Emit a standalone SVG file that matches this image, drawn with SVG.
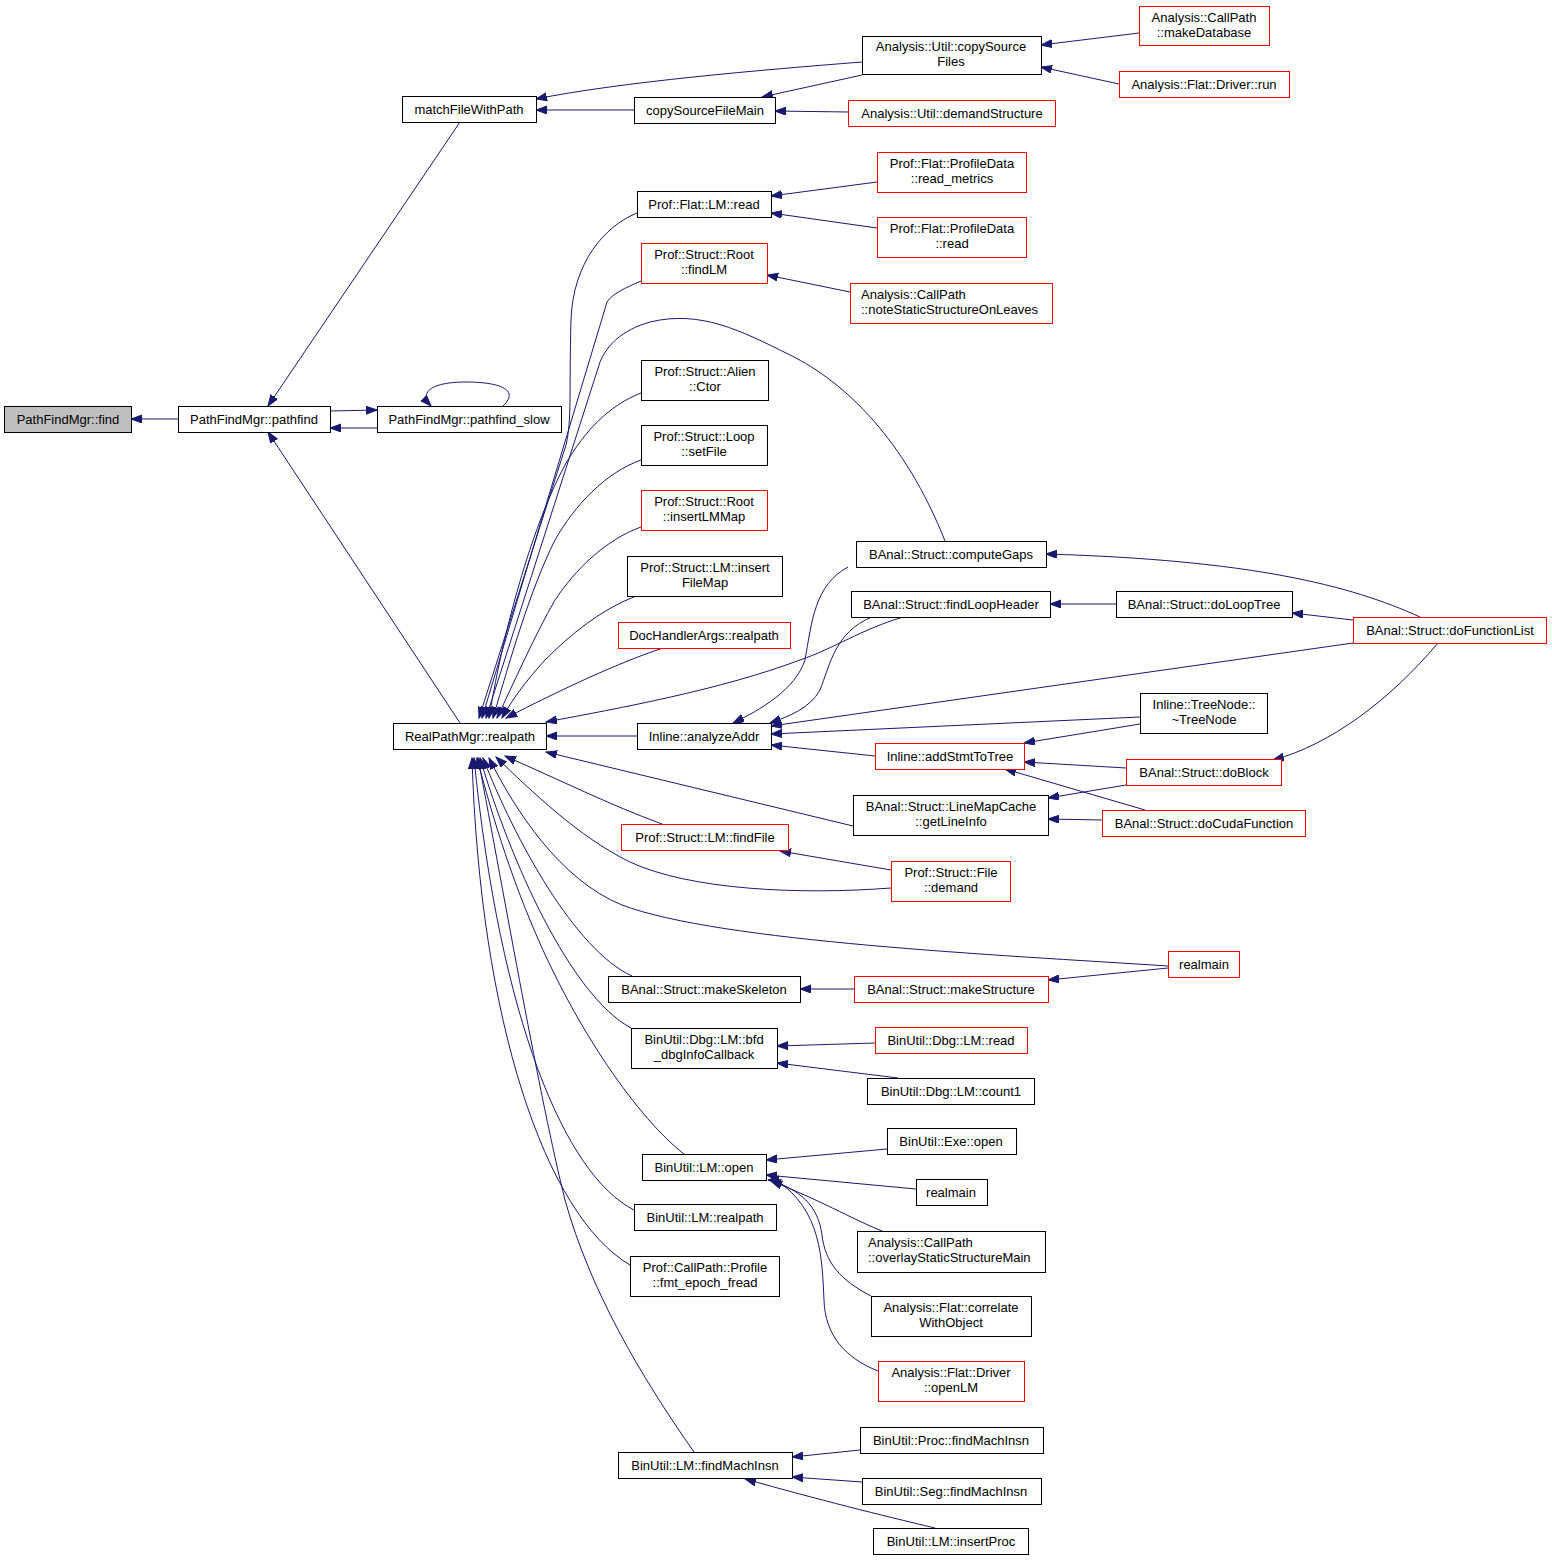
<svg xmlns="http://www.w3.org/2000/svg" width="1552" height="1561" viewBox="0 0 1552 1561">
<style>
.n rect{fill:#fff;stroke:#000;stroke-width:1}
.n.r rect{stroke:#ff0000}
.n.g rect{fill:#bfbfbf}
text{font-family:"Liberation Sans",Arial,sans-serif;font-size:13px;fill:#000;text-anchor:middle}
text.l{text-anchor:start}
#edges path{fill:none;stroke:#191970;stroke-width:1;marker-end:url(#a)}
</style>
<defs>
<marker id="a" markerUnits="userSpaceOnUse" markerWidth="12" markerHeight="9" refX="11" refY="4" orient="auto">
<path d="M0,0 L11,4 L0,8 Z" fill="#191970" stroke="#191970" stroke-width="1"/>
</marker>
</defs>
<rect width="1552" height="1561" fill="#fff"/>
<g id="edges">
<path d="M178,419 L131,419"/>
<path d="M460,122 L268,406"/>
<path d="M330,411 L377,410"/>
<path d="M377,428 L330,428"/>
<path d="M503,406 C520,390 500,382 466,382 C432,382 418,392 431,406"/>
<path d="M460,723 L268,432"/>
<path d="M634,110 L536,110"/>
<path d="M862,62 C760,70 620,82 536,99"/>
<path d="M862,75 L762,97"/>
<path d="M1139,33 L1041,45"/>
<path d="M1119,84 L1041,67"/>
<path d="M848,112 L775,111"/>
<path d="M877,182 L771,196"/>
<path d="M877,228 L771,213"/>
<path d="M850,292 L767,275"/>
<path d="M637,213 C605,226 573,262 571,320 C569,390 572,420 566,445 L479,718"/>
<path d="M641,281 C625,288 612,294 607,302 L482,718"/>
<path d="M945,541 C905,440 845,382 790,355 C740,330 700,310 650,322 C622,330 607,345 600,362 L486,718"/>
<path d="M641,393 C610,405 585,430 565,465 C535,520 505,620 489,718"/>
<path d="M641,460 C605,473 575,505 555,540 C530,590 510,660 493,718"/>
<path d="M641,527 C605,540 575,570 555,600 C535,635 515,680 497,718"/>
<path d="M636,596 C600,610 570,635 545,660 C525,682 512,700 502,718"/>
<path d="M663,648 C620,662 560,690 506,718"/>
<path d="M903,617 C860,630 835,648 800,660 C720,690 620,708 546,722"/>
<path d="M637,736 L546,736"/>
<path d="M853,826 L546,752"/>
<path d="M662,824 C610,805 560,780 505,756"/>
<path d="M891,888 C800,895 690,890 630,862 C580,838 530,790 496,757"/>
<path d="M1168,966 C1000,955 720,942 622,905 C560,880 515,810 489,758"/>
<path d="M632,976 C575,950 515,840 483,758"/>
<path d="M631,1028 C570,995 510,860 480,758"/>
<path d="M684,1154 C640,1120 575,1030 530,920 C505,860 488,800 477,758"/>
<path d="M634,1210 C565,1175 500,1020 474,758"/>
<path d="M630,1265 C545,1215 480,1020 472,758"/>
<path d="M694,1452 C640,1375 590,1290 565,1200 C540,1100 505,900 478,758"/>
<path d="M848,567 C815,585 812,620 805,660 C795,690 760,710 733,723"/>
<path d="M872,617 C835,632 830,665 820,690 C810,708 790,716 770,723"/>
<path d="M1353,643 L771,726"/>
<path d="M1140,717 L771,734"/>
<path d="M875,756 L771,745"/>
<path d="M1420,617 C1350,585 1250,560 1046,554"/>
<path d="M1116,604 L1050,604"/>
<path d="M1353,620 L1292,613"/>
<path d="M1438,643 C1390,700 1330,745 1273,760"/>
<path d="M1140,724 L1024,743"/>
<path d="M1126,768 L1024,762"/>
<path d="M1145,810 L1005,769"/>
<path d="M1126,785 L1048,798"/>
<path d="M1102,820 L1048,819"/>
<path d="M891,870 L780,851"/>
<path d="M1168,968 L1048,980"/>
<path d="M854,989 L800,989"/>
<path d="M875,1043 L777,1046"/>
<path d="M898,1078 L777,1063"/>
<path d="M887,1149 L766,1160"/>
<path d="M916,1189 L766,1175"/>
<path d="M882,1231 C850,1218 820,1200 771,1181"/>
<path d="M871,1296 C840,1280 825,1262 822,1235 C818,1205 800,1190 770,1180"/>
<path d="M878,1371 C845,1358 825,1335 824,1300 C822,1260 822,1210 776,1180 L768,1180"/>
<path d="M860,1450 L792,1457"/>
<path d="M862,1482 L792,1477"/>
<path d="M935,1528 C880,1515 820,1500 745,1479"/>
</g>
<g id="find" class="n g"><rect x="4.5" y="406.5" width="127" height="26"/><text x="68" y="424">PathFindMgr::find</text></g>
<g id="pathfind" class="n"><rect x="178.5" y="406.5" width="152" height="26"/><text x="254" y="424">PathFindMgr::pathfind</text></g>
<g id="pathfind_slow" class="n"><rect x="377.5" y="406.5" width="184" height="26"/><text x="469" y="424">PathFindMgr::pathfind_slow</text></g>
<g id="matchFileWithPath" class="n"><rect x="402.5" y="96.5" width="134" height="26"/><text x="469" y="114">matchFileWithPath</text></g>
<g id="RealPathMgr_realpath" class="n"><rect x="393.5" y="723.5" width="153" height="26"/><text x="470" y="741">RealPathMgr::realpath</text></g>
<g id="copySourceFileMain" class="n"><rect x="634.5" y="97.5" width="141" height="26"/><text x="705" y="115">copySourceFileMain</text></g>
<g id="copySourceFiles" class="n"><rect x="862.5" y="36.5" width="179" height="38"/><text x="951" y="51">Analysis::Util::copySource</text><text x="951" y="66">Files</text></g>
<g id="makeDatabase" class="n r"><rect x="1139.5" y="6.5" width="130" height="39"/><text x="1204" y="22">Analysis::CallPath</text><text x="1204" y="37">::makeDatabase</text></g>
<g id="Driver_run" class="n r"><rect x="1119.5" y="71.5" width="170" height="26"/><text x="1204" y="89">Analysis::Flat::Driver::run</text></g>
<g id="demandStructure" class="n r"><rect x="848.5" y="100.5" width="207" height="26"/><text x="952" y="118">Analysis::Util::demandStructure</text></g>
<g id="Flat_LM_read" class="n"><rect x="637.5" y="191.5" width="134" height="26"/><text x="704" y="209">Prof::Flat::LM::read</text></g>
<g id="read_metrics" class="n r"><rect x="877.5" y="152.5" width="149" height="40"/><text x="952" y="168">Prof::Flat::ProfileData</text><text x="952" y="183">::read_metrics</text></g>
<g id="ProfileData_read" class="n r"><rect x="877.5" y="217.5" width="149" height="40"/><text x="952" y="233">Prof::Flat::ProfileData</text><text x="952" y="248">::read</text></g>
<g id="findLM" class="n r"><rect x="641.5" y="243.5" width="126" height="40"/><text x="704" y="259">Prof::Struct::Root</text><text x="704" y="274">::findLM</text></g>
<g id="noteStatic" class="n r"><rect x="850.5" y="283.5" width="202" height="40"/><text class="l" x="861" y="299">Analysis::CallPath</text><text class="l" x="861" y="314">::noteStaticStructureOnLeaves</text></g>
<g id="Alien_Ctor" class="n"><rect x="641.5" y="360.5" width="127" height="40"/><text x="705" y="376">Prof::Struct::Alien</text><text x="705" y="391">::Ctor</text></g>
<g id="Loop_setFile" class="n"><rect x="641.5" y="425.5" width="126" height="40"/><text x="704" y="441">Prof::Struct::Loop</text><text x="704" y="456">::setFile</text></g>
<g id="insertLMMap" class="n r"><rect x="641.5" y="490.5" width="126" height="40"/><text x="704" y="506">Prof::Struct::Root</text><text x="704" y="521">::insertLMMap</text></g>
<g id="insertFileMap" class="n"><rect x="627.5" y="556.5" width="155" height="40"/><text x="705" y="572">Prof::Struct::LM::insert</text><text x="705" y="587">FileMap</text></g>
<g id="DocHandlerArgs" class="n r"><rect x="618.5" y="622.5" width="172" height="26"/><text x="704" y="640">DocHandlerArgs::realpath</text></g>
<g id="computeGaps" class="n"><rect x="856.5" y="541.5" width="190" height="26"/><text x="951" y="559">BAnal::Struct::computeGaps</text></g>
<g id="findLoopHeader" class="n"><rect x="851.5" y="591.5" width="199" height="26"/><text x="951" y="609">BAnal::Struct::findLoopHeader</text></g>
<g id="doLoopTree" class="n"><rect x="1116.5" y="591.5" width="176" height="26"/><text x="1204" y="609">BAnal::Struct::doLoopTree</text></g>
<g id="doFunctionList" class="n r"><rect x="1353.5" y="617.5" width="193" height="26"/><text x="1450" y="635">BAnal::Struct::doFunctionList</text></g>
<g id="analyzeAddr" class="n"><rect x="637.5" y="723.5" width="134" height="26"/><text x="704" y="741">Inline::analyzeAddr</text></g>
<g id="TreeNode" class="n"><rect x="1140.5" y="693.5" width="127" height="40"/><text x="1204" y="709">Inline::TreeNode::</text><text x="1204" y="724">~TreeNode</text></g>
<g id="addStmtToTree" class="n r"><rect x="875.5" y="743.5" width="149" height="26"/><text x="950" y="761">Inline::addStmtToTree</text></g>
<g id="doBlock" class="n r"><rect x="1126.5" y="759.5" width="155" height="26"/><text x="1204" y="777">BAnal::Struct::doBlock</text></g>
<g id="getLineInfo" class="n"><rect x="853.5" y="795.5" width="195" height="40"/><text x="951" y="811">BAnal::Struct::LineMapCache</text><text x="951" y="826">::getLineInfo</text></g>
<g id="doCudaFunction" class="n r"><rect x="1102.5" y="810.5" width="203" height="26"/><text x="1204" y="828">BAnal::Struct::doCudaFunction</text></g>
<g id="findFile" class="n r"><rect x="621.5" y="824.5" width="167" height="26"/><text x="705" y="842">Prof::Struct::LM::findFile</text></g>
<g id="File_demand" class="n r"><rect x="891.5" y="861.5" width="119" height="40"/><text x="951" y="877">Prof::Struct::File</text><text x="951" y="892">::demand</text></g>
<g id="realmain_red" class="n r"><rect x="1168.5" y="951.5" width="71" height="26"/><text x="1204" y="969">realmain</text></g>
<g id="makeSkeleton" class="n"><rect x="608.5" y="976.5" width="192" height="26"/><text x="704" y="994">BAnal::Struct::makeSkeleton</text></g>
<g id="makeStructure" class="n r"><rect x="854.5" y="976.5" width="194" height="26"/><text x="951" y="994">BAnal::Struct::makeStructure</text></g>
<g id="bfd_dbgInfoCallback" class="n"><rect x="631.5" y="1028.5" width="146" height="40"/><text x="704" y="1044">BinUtil::Dbg::LM::bfd</text><text x="704" y="1059">_dbgInfoCallback</text></g>
<g id="Dbg_LM_read" class="n r"><rect x="875.5" y="1027.5" width="152" height="26"/><text x="951" y="1045">BinUtil::Dbg::LM::read</text></g>
<g id="count1" class="n"><rect x="867.5" y="1078.5" width="167" height="26"/><text x="951" y="1096">BinUtil::Dbg::LM::count1</text></g>
<g id="LM_open" class="n"><rect x="642.5" y="1154.5" width="124" height="26"/><text x="704" y="1172">BinUtil::LM::open</text></g>
<g id="Exe_open" class="n"><rect x="887.5" y="1128.5" width="129" height="26"/><text x="951" y="1146">BinUtil::Exe::open</text></g>
<g id="realmain" class="n"><rect x="916.5" y="1179.5" width="71" height="26"/><text x="951" y="1197">realmain</text></g>
<g id="overlayStaticStructureMain" class="n"><rect x="857.5" y="1231.5" width="188" height="41"/><text class="l" x="868" y="1247">Analysis::CallPath</text><text class="l" x="868" y="1262">::overlayStaticStructureMain</text></g>
<g id="correlateWithObject" class="n"><rect x="871.5" y="1296.5" width="160" height="40"/><text x="951" y="1312">Analysis::Flat::correlate</text><text x="951" y="1327">WithObject</text></g>
<g id="openLM" class="n r"><rect x="878.5" y="1361.5" width="146" height="40"/><text x="951" y="1377">Analysis::Flat::Driver</text><text x="951" y="1392">::openLM</text></g>
<g id="BinUtil_LM_realpath" class="n"><rect x="634.5" y="1204.5" width="142" height="26"/><text x="705" y="1222">BinUtil::LM::realpath</text></g>
<g id="fmt_epoch_fread" class="n"><rect x="630.5" y="1256.5" width="149" height="40"/><text x="705" y="1272">Prof::CallPath::Profile</text><text x="705" y="1287">::fmt_epoch_fread</text></g>
<g id="LM_findMachInsn" class="n"><rect x="618.5" y="1452.5" width="174" height="26"/><text x="705" y="1470">BinUtil::LM::findMachInsn</text></g>
<g id="Proc_findMachInsn" class="n"><rect x="860.5" y="1427.5" width="183" height="26"/><text x="951" y="1445">BinUtil::Proc::findMachInsn</text></g>
<g id="Seg_findMachInsn" class="n"><rect x="862.5" y="1478.5" width="179" height="26"/><text x="951" y="1496">BinUtil::Seg::findMachInsn</text></g>
<g id="insertProc" class="n"><rect x="873.5" y="1528.5" width="155" height="26"/><text x="951" y="1546">BinUtil::LM::insertProc</text></g>
</svg>
